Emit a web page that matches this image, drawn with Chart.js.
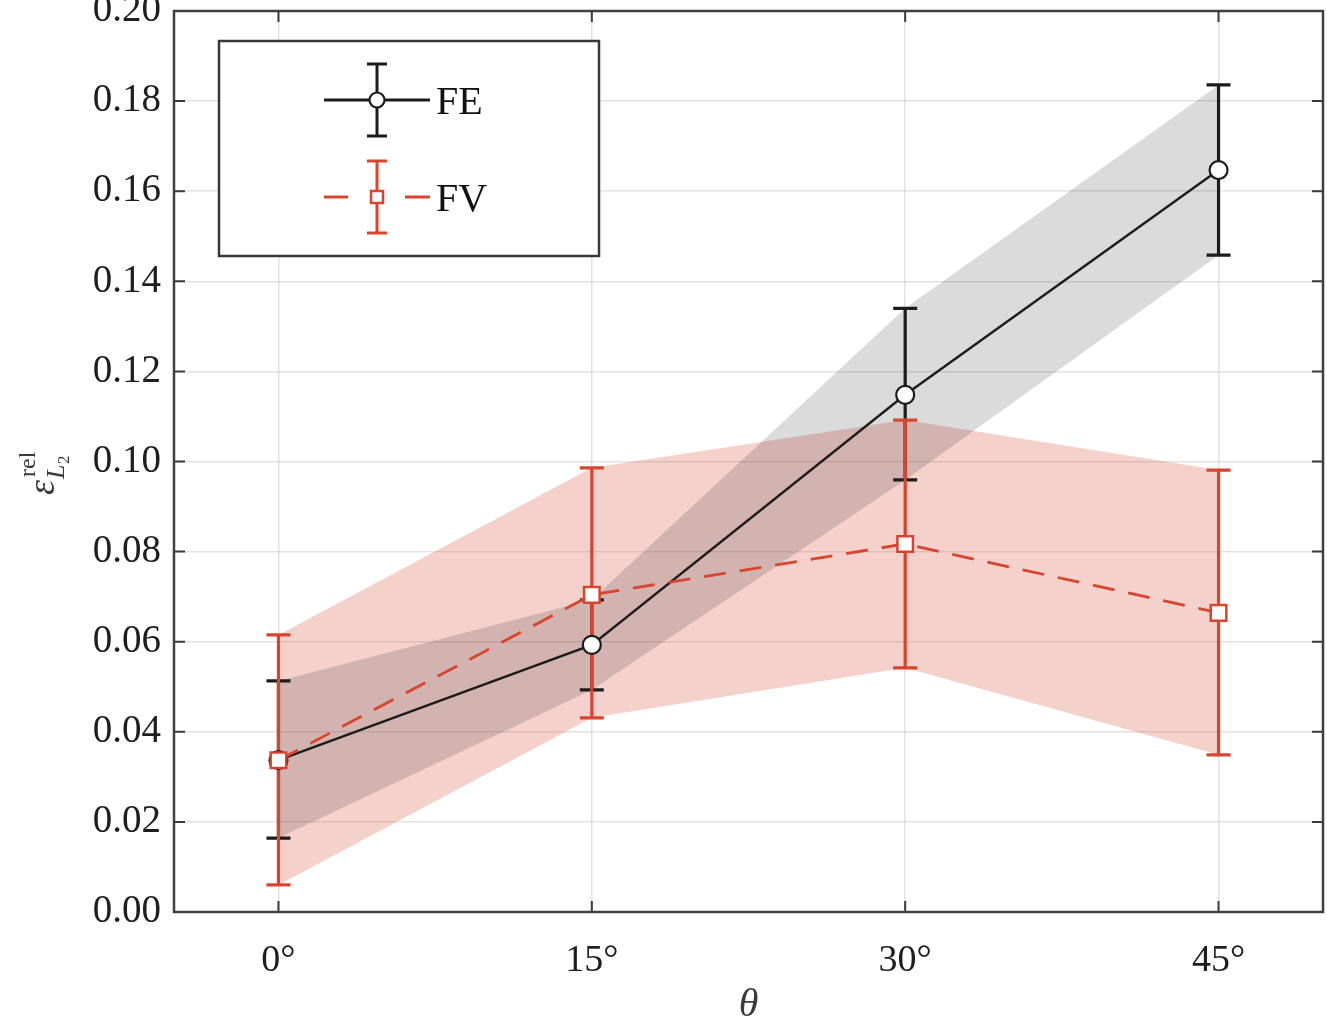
<!DOCTYPE html>
<html><head><meta charset="utf-8">
<script src="https://cdn.jsdelivr.net/npm/chart.js@4"></script>
<style>html,body{margin:0;padding:0;background:#fff}#wrap{width:1327px;height:1029px}</style>
</head><body><div id="wrap"><canvas id="c" width="1327" height="1029"></canvas></div>
<script>
const thetaDeg = [0, 15, 30, 45];
const xTickValues = [0, 15, 30, 45];
const yTickValues = [0, 0.02, 0.04, 0.06, 0.08, 0.10, 0.12, 0.14, 0.16, 0.18, 0.20];
const feMean  = [0.0337, 0.0593, 0.1148, 0.1647];
const feLower = [0.0164, 0.0493, 0.0959, 0.1458];
const feUpper = [0.0513, 0.0693, 0.1340, 0.1836];
const fvMean  = [0.0337, 0.0704, 0.0817, 0.0664];
const fvLower = [0.0060, 0.0431, 0.0542, 0.0349];
const fvUpper = [0.0615, 0.0986, 0.1092, 0.0981];
const seriesNames = ['FE', 'FV'];

const FE_COLOR = '#1c1c1c';
const FV_COLOR = '#d9442e';
const SERIF = 'Liberation Serif, Times New Roman, Times, serif';

const pts = (ys) => thetaDeg.map((x, i) => ({x: x, y: ys[i]}));

const errorBarPlugin = {
  id: 'errorBars',
  beforeDatasetsDraw(chart) {
    const xs = chart.scales.x, ys = chart.scales.y, ctx = chart.ctx;
    const sets = [[feLower, feUpper, FE_COLOR], [fvLower, fvUpper, FV_COLOR]];
    ctx.save();
    ctx.lineWidth = 3.2;
    ctx.lineCap = 'butt';
    sets.forEach(([lo, hi, col]) => {
      ctx.strokeStyle = col;
      thetaDeg.forEach((t, i) => {
        const x = xs.getPixelForValue(t);
        const y1 = ys.getPixelForValue(lo[i]);
        const y2 = ys.getPixelForValue(hi[i]);
        ctx.beginPath();
        ctx.moveTo(x, y1); ctx.lineTo(x, y2);
        ctx.moveTo(x - 12, y1); ctx.lineTo(x + 12, y1);
        ctx.moveTo(x - 12, y2); ctx.lineTo(x + 12, y2);
        ctx.stroke();
      });
    });
    ctx.restore();
  }
};

const frameLegendPlugin = {
  id: 'frameLegend',
  afterDraw(chart) {
    const ctx = chart.ctx, a = chart.chartArea;
    const xs = chart.scales.x, ys = chart.scales.y;
    ctx.save();
    ctx.strokeStyle = '#3a3a3a';
    ctx.lineWidth = 2;
    ctx.beginPath();
    xTickValues.forEach(v => {
      const x = xs.getPixelForValue(v);
      ctx.moveTo(x, a.bottom); ctx.lineTo(x, a.bottom - 11);
      ctx.moveTo(x, a.top); ctx.lineTo(x, a.top + 11);
    });
    yTickValues.forEach(v => {
      const y = ys.getPixelForValue(v);
      ctx.moveTo(a.left, y); ctx.lineTo(a.left + 11, y);
      ctx.moveTo(a.right, y); ctx.lineTo(a.right - 11, y);
    });
    ctx.stroke();
    ctx.strokeStyle = '#404040';
    ctx.lineWidth = 2.5;
    ctx.strokeRect(a.left, a.top, a.right - a.left, a.bottom - a.top);

    // legend
    const lx = 219, ly = 41, lw = 380, lh = 215;
    ctx.fillStyle = '#ffffff';
    ctx.fillRect(lx, ly, lw, lh);
    ctx.strokeStyle = '#383838';
    ctx.lineWidth = 2.5;
    ctx.strokeRect(lx, ly, lw, lh);
    const mx = 377;
    let yy = 100;
    ctx.strokeStyle = FE_COLOR; ctx.lineWidth = 3;
    ctx.beginPath(); ctx.moveTo(324, yy); ctx.lineTo(430, yy); ctx.stroke();
    ctx.beginPath();
    ctx.moveTo(mx, yy - 36); ctx.lineTo(mx, yy + 36);
    ctx.moveTo(mx - 10, yy - 36); ctx.lineTo(mx + 10, yy - 36);
    ctx.moveTo(mx - 10, yy + 36); ctx.lineTo(mx + 10, yy + 36);
    ctx.stroke();
    ctx.fillStyle = '#fff'; ctx.lineWidth = 2.2;
    ctx.beginPath(); ctx.arc(mx, yy, 7.5, 0, Math.PI * 2); ctx.fill(); ctx.stroke();
    yy = 197;
    ctx.strokeStyle = FV_COLOR; ctx.lineWidth = 3;
    ctx.beginPath();
    ctx.moveTo(324, yy); ctx.lineTo(348, yy);
    ctx.moveTo(405, yy); ctx.lineTo(430, yy);
    ctx.moveTo(mx, yy - 36); ctx.lineTo(mx, yy + 36);
    ctx.moveTo(mx - 10, yy - 36); ctx.lineTo(mx + 10, yy - 36);
    ctx.moveTo(mx - 10, yy + 36); ctx.lineTo(mx + 10, yy + 36);
    ctx.stroke();
    ctx.fillStyle = '#fff'; ctx.lineWidth = 2.5;
    ctx.fillRect(mx - 6, yy - 6, 12, 12); ctx.strokeRect(mx - 6, yy - 6, 12, 12);
    ctx.fillStyle = '#111111';
    ctx.font = '40px ' + SERIF;
    ctx.textBaseline = 'middle';
    ctx.textAlign = 'left';
    ctx.fillText(seriesNames[0], 436, 103);
    ctx.fillText(seriesNames[1], 436, 200);

    // y-axis title: epsilon^{rel}_{L_2}
    ctx.translate(44, 467);
    ctx.rotate(-Math.PI / 2);
    ctx.fillStyle = '#3a3a3a';
    ctx.textBaseline = 'alphabetic';
    ctx.font = 'italic 38px ' + SERIF;
    ctx.fillText('ε', -28, 10);
    ctx.font = '24px ' + SERIF;
    ctx.fillText('rel', -10, -9);
    ctx.font = 'italic 26px ' + SERIF;
    ctx.fillText('L', -12, 20);
    ctx.font = '17px ' + SERIF;
    ctx.fillText('2', 3, 25);
    ctx.restore();
  }
};

new Chart(document.getElementById('c'), {
  type: 'line',
  data: {
    datasets: [
      { label: seriesNames[1], data: pts(fvMean), borderColor: FV_COLOR, borderWidth: 2.8,
        borderDash: [22, 14], pointStyle: 'rect', pointRadius: 11, pointBorderWidth: 2.5,
        pointBackgroundColor: '#fff', pointBorderColor: FV_COLOR, fill: false, tension: 0 },
      { label: seriesNames[0], data: pts(feMean), borderColor: FE_COLOR, borderWidth: 2.4,
        pointStyle: 'circle', pointRadius: 9, pointBorderWidth: 2.2,
        pointBackgroundColor: '#fff', pointBorderColor: FE_COLOR, fill: false, tension: 0 },
      { label: 'FE upper', data: pts(feUpper), borderWidth: 0, pointRadius: 0,
        backgroundColor: 'rgba(0,0,0,0.14)', fill: '+1' },
      { label: 'FE lower', data: pts(feLower), borderWidth: 0, pointRadius: 0, fill: false },
      { label: 'FV upper', data: pts(fvUpper), borderWidth: 0, pointRadius: 0,
        backgroundColor: 'rgba(217,72,53,0.25)', fill: '+1' },
      { label: 'FV lower', data: pts(fvLower), borderWidth: 0, pointRadius: 0, fill: false }
    ]
  },
  options: {
    responsive: false,
    devicePixelRatio: 1,
    animation: false,
    layout: { autoPadding: false, padding: { left: 0, top: 11, right: 4, bottom: 0 } },
    plugins: {
      legend: { display: false },
      tooltip: { enabled: false },
      filler: { drawTime: 'beforeDatasetsDraw' }
    },
    scales: {
      x: {
        type: 'linear', min: -5, max: 50,
        afterBuildTicks: (s) => { s.ticks = xTickValues.map(v => ({value: v})); },
        afterFit: (s) => { s.height = 117; s.paddingLeft = 0; s.paddingRight = 0; },
        grid: { color: 'rgba(0,0,0,0.11)', lineWidth: 1.5, drawTicks: false },
        border: { display: false },
        ticks: { padding: 26, color: '#1e1e1e', font: { family: SERIF, size: 38 },
                 maxRotation: 0, callback: (v) => v + '°' },
        title: { display: true, text: 'θ', color: '#3a3a3a',
                 font: { family: SERIF, size: 40, style: 'italic' }, padding: { top: 0, bottom: 0 } }
      },
      y: {
        type: 'linear', min: 0, max: 0.2,
        afterBuildTicks: (s) => { s.ticks = yTickValues.map(v => ({value: v})); },
        afterFit: (s) => { s.width = 174; s.paddingTop = 0; s.paddingBottom = 0; },
        grid: { color: 'rgba(0,0,0,0.11)', lineWidth: 1.5, drawTicks: false },
        border: { display: false },
        ticks: { padding: 13, color: '#1e1e1e', font: { family: SERIF, size: 39 },
                 callback: (v) => v.toFixed(2) }
      }
    }
  },
  plugins: [errorBarPlugin, frameLegendPlugin]
});
</script></body></html>
